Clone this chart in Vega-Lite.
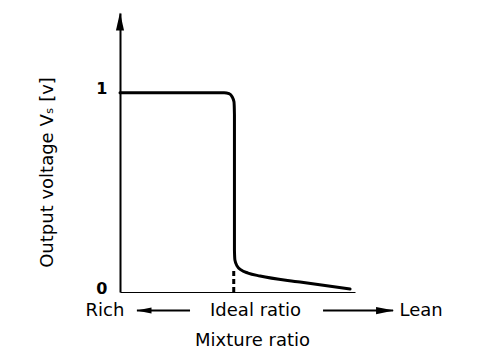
{
  "$schema": "https://vega.github.io/schema/vega-lite/v6.json",
  "width": 235,
  "height": 279,
  "autosize": {"type": "none"},
  "padding": {"left": 120, "top": 13, "right": 141, "bottom": 66},
  "background": "white",
  "config": {
    "view": {"stroke": null},
    "font": "DejaVu Sans",
    "axis": {"grid": false, "ticks": false}
  },
  "datasets": {
    "curve": [
      {"x": 0, "y": 1.0},
      {"x": 44.3, "y": 1.0},
      {"x": 46.4, "y": 0.995},
      {"x": 47.7, "y": 0.98},
      {"x": 48.5, "y": 0.955},
      {"x": 48.7, "y": 0.89},
      {"x": 48.7, "y": 0.211},
      {"x": 48.9, "y": 0.161},
      {"x": 49.8, "y": 0.131},
      {"x": 51.5, "y": 0.111},
      {"x": 54.5, "y": 0.095},
      {"x": 59.6, "y": 0.08},
      {"x": 76.6, "y": 0.05},
      {"x": 97.9, "y": 0.015}
    ],
    "dash": [{"x": 48.4, "y": 0, "y2": 0.12}],
    "labels": [
      {"x": -6.4, "y": -0.093, "label": "Rich"},
      {"x": 57.7, "y": -0.093, "label": "Ideal ratio"},
      {"x": 128.1, "y": -0.093, "label": "Lean"}
    ],
    "shafts": [
      {"x": 7.2, "x2": 29.8, "y": -0.093},
      {"x": 86.4, "x2": 116.2, "y": -0.093}
    ],
    "headsLeft": [{"x": 10.2, "y": -0.093}],
    "headsRight": [{"x": 112.8, "y": -0.093}],
    "headsUp": [{"x": 0, "y": 1.357}]
  },
  "layer": [
    {
      "data": {"name": "curve"},
      "mark": {"type": "line", "color": "black", "strokeWidth": 3, "interpolate": "monotone", "strokeCap": "round"},
      "encoding": {
        "x": {
          "field": "x", "type": "quantitative",
          "scale": {"domain": [0, 100], "nice": false, "zero": false},
          "axis": {
            "labels": false, "domainColor": "black", "domainWidth": 1,
            "title": "Mixture ratio", "titleFont": "DejaVu Sans", "titleFontSize": 18,
            "titleFontWeight": "normal", "titleColor": "black",
            "titleX": 132, "titleY": 48, "titleBaseline": "middle", "titleAlign": "center"
          }
        },
        "y": {
          "field": "y", "type": "quantitative",
          "scale": {"domain": [0, 1.4], "nice": false, "zero": false},
          "axis": {
            "values": [0, 1], "format": "d", "domainColor": "black", "domainWidth": 2,
            "labelFont": "DejaVu Sans", "labelFontSize": 16, "labelFontWeight": "bold",
            "labelColor": "black", "labelPadding": 13, "labelBaseline": "alphabetic", "labelOffset": 1,
            "title": "Output voltage Vₛ [v]", "titleFont": "DejaVu Sans", "titleFontSize": 18,
            "titleFontWeight": "normal", "titleColor": "black", "titleAngle": -90,
            "titleX": -73, "titleY": 159, "titleBaseline": "middle", "titleAlign": "center"
          }
        }
      }
    },
    {
      "data": {"name": "dash"},
      "mark": {"type": "rule", "color": "black", "strokeWidth": 3, "strokeDash": [5, 3]},
      "encoding": {
        "x": {"field": "x", "type": "quantitative"},
        "y": {"field": "y", "type": "quantitative"},
        "y2": {"field": "y2"}
      }
    },
    {
      "data": {"name": "labels"},
      "mark": {"type": "text", "font": "DejaVu Sans", "fontSize": 18, "color": "black", "baseline": "middle", "align": "center"},
      "encoding": {
        "x": {"field": "x", "type": "quantitative"},
        "y": {"field": "y", "type": "quantitative"},
        "text": {"field": "label"}
      }
    },
    {
      "data": {"name": "shafts"},
      "mark": {"type": "rule", "color": "black", "strokeWidth": 2},
      "encoding": {
        "x": {"field": "x", "type": "quantitative"},
        "x2": {"field": "x2"},
        "y": {"field": "y", "type": "quantitative"}
      }
    },
    {
      "data": {"name": "headsLeft"},
      "mark": {"type": "point", "shape": "M-1,0L1,-0.4L1,0.4Z", "filled": true, "color": "black", "opacity": 1, "size": 225},
      "encoding": {
        "x": {"field": "x", "type": "quantitative"},
        "y": {"field": "y", "type": "quantitative"}
      }
    },
    {
      "data": {"name": "headsRight"},
      "mark": {"type": "point", "shape": "M1,0L-1,-0.4L-1,0.4Z", "filled": true, "color": "black", "opacity": 1, "size": 324},
      "encoding": {
        "x": {"field": "x", "type": "quantitative"},
        "y": {"field": "y", "type": "quantitative"}
      }
    },
    {
      "data": {"name": "headsUp"},
      "mark": {"type": "point", "shape": "M0,-1L0.45,1L-0.45,1Z", "filled": true, "color": "black", "opacity": 1, "size": 324},
      "encoding": {
        "x": {"field": "x", "type": "quantitative"},
        "y": {"field": "y", "type": "quantitative"}
      }
    }
  ]
}
